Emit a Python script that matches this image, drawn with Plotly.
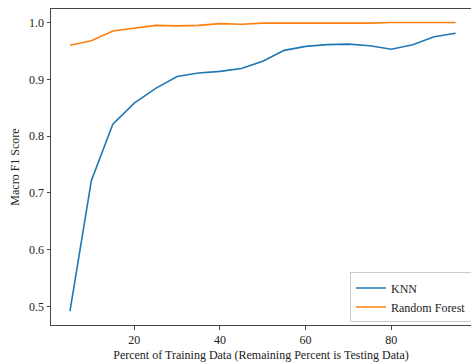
import plotly.graph_objects as go

train_pct = [5, 10, 15, 20, 25, 30, 35, 40, 45, 50, 55, 60, 65, 70, 75, 80, 85, 90, 95]
knn = [0.492, 0.722, 0.821, 0.858, 0.884, 0.905, 0.911, 0.914, 0.919, 0.932, 0.951, 0.958, 0.961, 0.962, 0.959, 0.953, 0.961, 0.975, 0.981]
rf = [0.960, 0.968, 0.985, 0.990, 0.995, 0.994, 0.995, 0.998, 0.997, 0.999, 0.999, 0.998, 0.998, 0.999, 0.999, 1.000, 1.000, 1.000, 1.000]

font = "Liberation Serif"
fs = 12
fig = go.Figure()
fig.add_trace(go.Scatter(x=train_pct, y=knn, mode="lines", name="KNN",
                         line=dict(color="#1f77b4", width=1.6)))
fig.add_trace(go.Scatter(x=train_pct, y=rf, mode="lines", name="Random Forest",
                         line=dict(color="#ff7f0e", width=1.6)))

fig.update_layout(
    width=471, height=364,
    margin=dict(l=51, r=0, t=9, b=39, autoexpand=False),
    paper_bgcolor="white", plot_bgcolor="white",
    font=dict(family=font, size=fs, color="#222"),
    showlegend=True,
    legend=dict(x=0.712, y=0.008, xanchor="left", yanchor="bottom",
                bordercolor="#cccccc", borderwidth=1, bgcolor="white",
                font=dict(family=font, size=fs), tracegroupgap=0),
)
fig.update_xaxes(
    range=[0.57, 98.6], tickvals=[20, 40, 60, 80], showgrid=False, zeroline=False,
    showline=True, linecolor="#444", linewidth=1, mirror=True,
    ticks="outside", ticklen=3.5, tickcolor="#444", automargin=False,
    tickfont=dict(family=font, size=fs),
    title=dict(text="Percent of Training Data (Remaining Percent is Testing Data)", standoff=4,
               font=dict(family=font, size=fs)),
)
fig.update_yaxes(
    range=[0.4674, 1.0238], tickvals=[0.5, 0.6, 0.7, 0.8, 0.9, 1.0], tickformat=".1f",
    showgrid=False, zeroline=False,
    showline=True, linecolor="#444", linewidth=1,
    ticks="outside", ticklen=3.5, tickcolor="#444", automargin=False,
    tickfont=dict(family=font, size=fs),
    title=dict(text="Macro F1 Score", standoff=6, font=dict(family=font, size=fs)),
)
fig.write_html("out.html", config={"displayModeBar": False},
               post_script="document.body.style.margin='0';")
